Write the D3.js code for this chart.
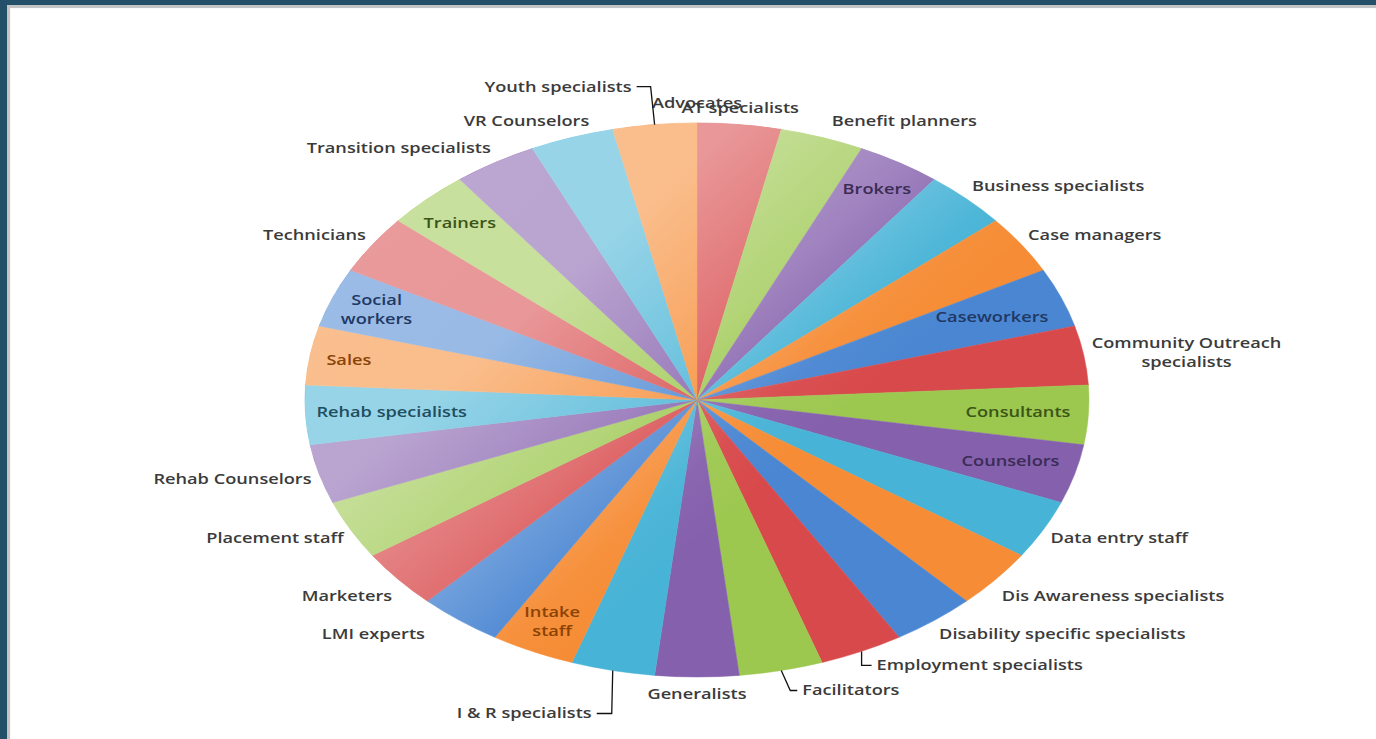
<!DOCTYPE html>
<html>
<head>
<meta charset="utf-8">
<script src="https://cdn.jsdelivr.net/npm/d3@7"></script>
<style>
html, body { margin: 0; padding: 0; background: #234f69; overflow: hidden; }
svg { display: block; }
.lbl { font-family: "Open Sans", sans-serif; font-size: 14px; font-weight: 600; fill: #3b3b3b; }
.leader { fill: none; stroke: #111; stroke-width: 1.3px; }
</style>
</head>
<body>
<svg id="chart" width="1376" height="739"></svg>
<script>
// --- data: one slice per staff role (Advocates has no share)
const categories = [
	'Advocates', 'AT specialists', 'Benefit planners', 'Brokers', 'Business specialists',
	'Case managers', 'Caseworkers', 'Community Outreach specialists', 'Consultants', 'Counselors',
	'Data entry staff', 'Dis Awareness specialists', 'Disability specific specialists', 'Employment specialists', 'Facilitators',
	'Generalists', 'I & R specialists', 'Intake staff', 'LMI experts', 'Marketers',
	'Placement staff', 'Rehab Counselors', 'Rehab specialists', 'Sales', 'Social workers',
	'Technicians', 'Trainers', 'Transition specialists', 'VR Counselors', 'Youth specialists',
];
const counts = [
	0, 1, 1, 1, 1,
	1, 1, 1, 1, 1,
	1, 1, 1, 1, 1,
	1, 1, 1, 1, 1,
	1, 1, 1, 1, 1,
	1, 1, 1, 1, 1,
];

// theme colours, cycled like the spreadsheet does
const sliceColors = ['#4a86d2', '#d8494b', '#9dc850', '#8560ad', '#47b3d6', '#f68c35'];
const insideTextColors = ['#1f3864', '#632523', '#3b5418', '#3a2c55', '#1f4e5e', '#8a4206'];

// label placement (layout only)
const labelLayout = {
	'Advocates': {mode: 'out', dy: -3},
	'AT specialists': {mode: 'out'},
	'Benefit planners': {mode: 'out', dx: 7},
	'Brokers': {mode: 'in', k: 0.89},
	'Caseworkers': {mode: 'in', k: 0.81},
	'Community Outreach specialists': {mode: 'out', lines: ['Community Outreach', 'specialists']},
	'Consultants': {mode: 'in', k: 0.82},
	'Counselors': {mode: 'in', k: 0.83},
	'Dis Awareness specialists': {mode: 'out', dy: 6},
	'Employment specialists': {mode: 'leader', dx: 15, dy: 14, kx: 0},
	'Facilitators': {mode: 'leader', dx: 21, dy: 20, kx: 9},
	'I & R specialists': {mode: 'leader', dx: -21, dy: 43, kx: -1},
	'Intake staff': {mode: 'in', k: 0.88, lines: ['Intake', 'staff']},
	'LMI experts': {mode: 'out', dx: -30},
	'Marketers': {mode: 'out', dy: 6},
	'Rehab specialists': {mode: 'in', k: 0.78},
	'Sales': {mode: 'in', k: 0.9},
	'Social workers': {mode: 'in', k: 0.88, lines: ['Social', 'workers']},
	'Trainers': {mode: 'in', k: 0.88},
	'VR Counselors': {mode: 'out', dx: 20},
	'Youth specialists': {mode: 'leader', dx: -23, dy: -38, kx: -4},
};

const W = 1376, H = 739;
const cx = 697, cy = 400;
const R = 277;          // pie radius before the horizontal stretch
const stretch = 392 / R; // the picture is squashed into an ellipse
const rx = R * stretch, ry = R;
const GAP_X = 8, GAP_Y = 17;
const TEXT_SX = 1.3;
const LINE_H = 19;

const svg = d3.select('#chart');

// frame
svg.append('rect').attr('width', W).attr('height', H).attr('fill', '#234f69');
svg.append('rect').attr('x', 7).attr('y', 5).attr('width', W - 7).attr('height', H - 5).attr('fill', '#c4c4c4');
svg.append('rect').attr('x', 10).attr('y', 8).attr('width', W - 10).attr('height', H - 8).attr('fill', '#fafafa');
svg.append('rect').attr('x', 11).attr('y', 9).attr('width', W - 11).attr('height', H - 9).attr('fill', '#ffffff');

const defs = svg.append('defs');
const grad = defs.append('linearGradient')
	.attr('id', 'shine')
	.attr('gradientUnits', 'userSpaceOnUse')
	.attr('x1', 420).attr('y1', 120)
	.attr('x2', 900).attr('y2', 650);
[[0, 0.45], [0.3, 0.43], [0.5, 0.22], [0.62, 0.04], [0.7, 0]].forEach(([o, a]) => {
	grad.append('stop').attr('offset', o).attr('stop-color', '#fff').attr('stop-opacity', a);
});

const pie = d3.pie().sort(null).value(d => d.value);
const arcs = pie(categories.map((name, i) => ({name, value: counts[i], idx: i})));
const arc = d3.arc().innerRadius(0).outerRadius(R);
const color = d => sliceColors[d.data.idx % sliceColors.length];
const textColor = d => insideTextColors[d.data.idx % insideTextColors.length];

const pieG = svg.append('g')
	.attr('transform', `translate(${cx},${cy}) scale(${stretch},1)`);

pieG.selectAll('path.slice')
	.data(arcs.filter(d => d.value > 0))
	.join('path')
	.classed('slice', true)
	.attr('d', arc)
	.attr('fill', color)
	.attr('stroke', color)
	.attr('stroke-width', 0.4);

// light sheen over the upper-left part of the pie
svg.append('ellipse')
	.attr('cx', cx).attr('cy', cy)
	.attr('rx', rx).attr('ry', ry)
	.attr('fill', 'url(#shine)');

const mid = d => (d.startAngle + d.endAngle) / 2;
const onEllipse = (a, ex, ey) => [cx + ex * Math.sin(a), cy - ey * Math.cos(a)];

const labelsG = svg.append('g');
const leadersG = svg.append('g');

arcs.forEach(d => {
	const a = mid(d);
	const lay = labelLayout[d.data.name] || {mode: 'out'};
	const lines = lay.lines || [d.data.name];
	let x, y, anchor, fill = '#3b3b3b';

	if (lay.mode === 'in') {
		[x, y] = onEllipse(a, rx * lay.k, ry * lay.k);
		anchor = 'middle';
		fill = textColor(d);
	} else if (lay.mode === 'leader') {
		const [ex, ey] = onEllipse(a, rx, ry);
		const sign = lay.dx > 0 ? 1 : -1;
		x = ex + lay.dx;
		y = ey + lay.dy;
		anchor = sign > 0 ? 'start' : 'end';
		leadersG.append('path')
			.classed('leader', true)
			.attr('d', d3.line()([[ex, ey], [ex + lay.kx, y], [x - sign * 5, y]]));
	} else {
		[x, y] = onEllipse(a, rx + GAP_X, ry + GAP_Y);
		const s = Math.sin(a);
		anchor = s > 0.2 ? 'start' : (s < -0.2 ? 'end' : 'middle');
		x += lay.dx || 0;
		y += lay.dy || 0;
	}

	const g = labelsG.append('g')
		.attr('transform', `translate(${x},${y}) scale(${TEXT_SX},1)`);
	const text = g.append('text')
		.classed('lbl', true)
		.attr('fill', fill)
		.style('fill', fill)
		.attr('text-anchor', lines.length > 1 ? 'middle' : anchor);
	lines.forEach((line, i) => {
		text.append('tspan')
			.attr('x', 0)
			.attr('y', (i - (lines.length - 1) / 2) * LINE_H)
			.attr('dy', '0.35em')
			.text(line);
	});
	// multi-line blocks outside the pie keep their left edge on the anchor
	if (lines.length > 1 && anchor !== 'middle') {
		const w = d3.max(text.selectAll('tspan').nodes(), n => n.getComputedTextLength());
		text.selectAll('tspan').attr('x', anchor === 'start' ? w / 2 : -w / 2);
	}
});
</script>
</body>
</html>
